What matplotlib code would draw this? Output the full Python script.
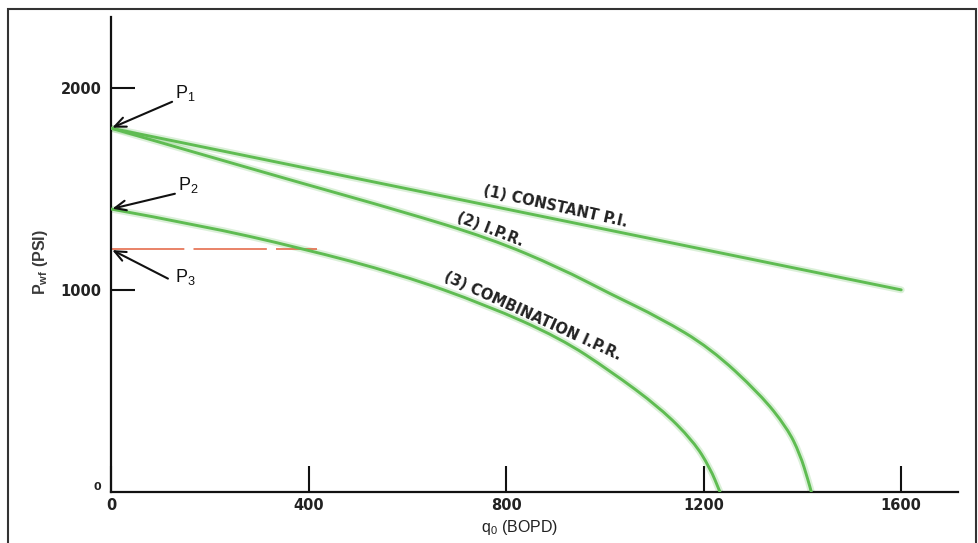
import matplotlib
matplotlib.use("Agg")
import matplotlib.pyplot as plt
from matplotlib.patches import Rectangle, PathPatch
from matplotlib.path import Path

plt.rcParams["font.family"] = ["Liberation Sans", "DejaVu Sans"]
plt.rcParams["mathtext.default"] = "regular"

# ---- data -------------------------------------------------------------
# (1) constant productivity index, straight line
q_const = [0, 1600]
p_const = [1800, 1000]

# (2) inflow performance relationship
q_ipr = [0, 180, 383, 585, 767, 909, 1011, 1112, 1213, 1314, 1369, 1395, 1412, 1418]
p_ipr = [1800, 1673, 1530, 1391, 1255, 1109, 980, 861, 713, 485, 317, 188, 54, 0]

# (3) combination IPR
q_comb = [0, 180, 383, 585, 760, 909, 1011, 1112, 1179, 1213, 1233]
p_comb = [1400, 1320, 1208, 1077, 925, 762, 599, 416, 252, 119, 0]

# bubble-point reference line P3
q_p3 = [0, 417]
p_p3 = [1200, 1200]

point_labels = ["P$_1$", "P$_2$", "P$_3$"]
point_pressures = [1800, 1400, 1200]

x_ticks = [0, 400, 800, 1200, 1600]
y_ticks = [0, 1000, 2000]

curve_labels = ["(1) CONSTANT P.I.", "(2) I.P.R.", "(3) COMBINATION I.P.R."]


def smooth_path(q, p):
    """Quadratic B-spline path using the data points as control points."""
    verts = [(q[0], p[0])]
    codes = [Path.MOVETO]
    for i in range(1, len(q) - 1):
        verts.append((q[i], p[i]))
        verts.append(((q[i] + q[i + 1]) / 2, (p[i] + p[i + 1]) / 2))
        codes += [Path.CURVE3, Path.CURVE3]
    verts.append((q[-1], p[-1]))
    codes.append(Path.LINETO)
    return Path(verts, codes)


# ---- figure -----------------------------------------------------------
W, H = 979, 543
fig = plt.figure(figsize=(W / 100, H / 100), dpi=100)
fig.patch.set_facecolor("white")
ax = fig.add_axes([111 / W, 51 / H, 847 / W, 475 / H])

green = "#5fbc52"
ax.plot(q_const, p_const, color=green, lw=5.0, alpha=0.22, solid_capstyle="round", zorder=2)
ax.plot(q_const, p_const, color=green, lw=2.1, solid_capstyle="round", zorder=3)
for q, p in [(q_ipr, p_ipr), (q_comb, p_comb)]:
    path = smooth_path(q, p)
    ax.add_patch(PathPatch(path, fill=False, edgecolor=green, lw=5.0, alpha=0.22,
                           capstyle="round", zorder=2))
    ax.add_patch(PathPatch(path, fill=False, edgecolor=green, lw=2.1,
                           capstyle="round", zorder=3))

ax.plot(q_p3, p_p3, color="#e3603f", lw=1.1, dashes=(48, 6), zorder=2)

ax.set_xlim(0, 1715)
ax.set_ylim(0, 2350)

for s in ["top", "right"]:
    ax.spines[s].set_visible(False)
for s in ["left", "bottom"]:
    ax.spines[s].set_linewidth(1.6)
    ax.spines[s].set_color("#111111")

tick_font = dict(family="DejaVu Sans", weight="bold", size=10.5)
ax.set_xticks(x_ticks)
ax.set_xticklabels([str(v) for v in x_ticks], fontdict=tick_font, color="#222222")
ax.set_yticks(y_ticks)
ax.set_yticklabels([str(v) for v in y_ticks], fontdict=tick_font, color="#222222")
ax.tick_params(axis="x", direction="in", length=18.5, width=1.5, pad=4, color="#111111")
ax.tick_params(axis="y", direction="in", length=17, width=1.5, pad=7, color="#111111")

# the zero on the pressure axis sits just above the rate axis, without a tick mark
t0 = ax.yaxis.get_major_ticks()[0]
t0.tick1line.set_visible(False)
t0.label1.set_verticalalignment("bottom")
t0.label1.set_fontsize(8)

ax.set_xlabel("q$_0$ (BOPD)", fontsize=11.5, color="#222222")
ax.xaxis.set_label_coords(0.483, -0.055)
ax.set_ylabel("P$_{wf}$ (PSI)", fontsize=11.5, color="#3a3a3a", fontweight="bold")
ax.yaxis.set_label_coords(-0.072, 0.484)

# curve labels
lab_font = dict(family="DejaVu Sans", weight="bold", size=10.5, color="#222222")
ax.text(899, 1410, curve_labels[0], rotation=-12.5, ha="center", va="center",
        rotation_mode="anchor", **lab_font)
ax.text(767, 1300, curve_labels[1], rotation=-21, ha="center", va="center",
        rotation_mode="anchor", **lab_font)
ax.text(853, 871, curve_labels[2], rotation=-24.5, ha="center", va="center",
        rotation_mode="anchor", **lab_font)

# P1, P2, P3 call-outs (arrow tail and label offsets in points)
arrow_tails = [(44, 19), (46, 11), (41, -21)]
text_offsets = [(46, 18), (48, 10), (46, -27)]
arrow_kw = dict(arrowstyle="->,head_length=0.8,head_width=0.35", color="#111111", lw=1.5,
                shrinkA=0, shrinkB=1)
for lab, p, tail, toff in zip(point_labels, point_pressures, arrow_tails, text_offsets):
    ax.annotate("", xy=(0, p), xytext=tail, textcoords="offset points",
                arrowprops=arrow_kw, annotation_clip=False, zorder=5)
    ax.annotate(lab, xy=(0, p), xytext=toff, textcoords="offset points",
                ha="left", va="bottom", fontsize=13, color="#111111",
                annotation_clip=False)

# outer frame
fig.add_artist(Rectangle((8 / W, -0.05), (976 - 8) / W, 1.05 - 9 / H,
                         transform=fig.transFigure, fill=False,
                         edgecolor="#333333", lw=1.5))

fig.savefig("out.png", dpi=100, facecolor="white")
